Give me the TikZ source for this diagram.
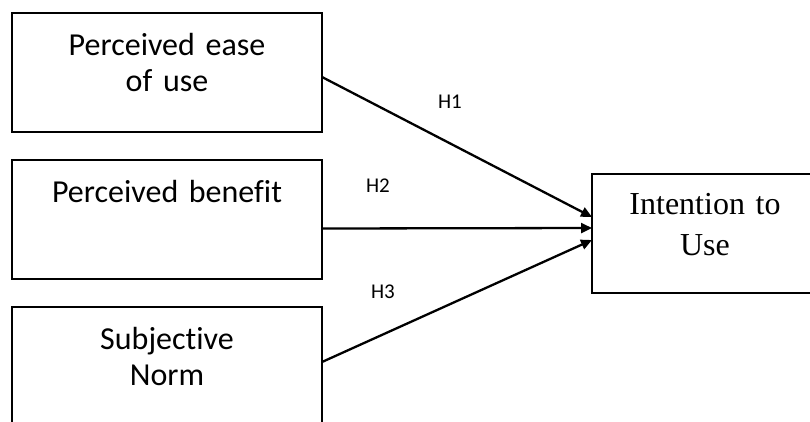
\documentclass[tikz,border=0pt]{standalone}
\usepackage{fontspec}
\usetikzlibrary{positioning,arrows.meta}
\newfontfamily\calibrifont[Ligatures=NoCommon]{Carlito}
\newfontfamily\timesfont{Liberation Serif}

\begin{document}
\begin{tikzpicture}[
			x=1pt,y=-1pt,
			factor/.style={
				draw,
				rectangle,
				line width=1.8pt,
				inner sep=0pt,
				outer sep=0pt,
				text width=310pt,
				text height=42pt,
				text depth=77pt,
				align=center,
				font=\calibrifont\fontsize{32}{36}\selectfont
			},
			outcome/.style={
				draw,
				rectangle,
				line width=1.8pt,
				inner sep=0pt,
				outer sep=0pt,
				text width=226pt,
				text height=40pt,
				text depth=79pt,
				align=center,
				font=\timesfont\fontsize{32}{41}\selectfont
			},
			hyp/.style={
				inner sep=0pt,
				font=\calibrifont\fontsize{21}{24}\selectfont
			},
			arrow/.style={
				-{Triangle[length=11pt,width=10pt]},
				line width=2.3pt
			}
			]
			
			\useasboundingbox (0,0) rectangle (810,421);
			\clip (0,0) rectangle (810,421);
			
			% Nodes
			\node[factor, anchor=north west] (ease) at (12,13) {Perceived ease\\of use};
			\node[factor, below=28pt of ease] (benefit) {Perceived benefit};
			\node[factor, below=28pt of benefit] (norm) {Subjective\\Norm};
			\node[outcome, anchor=north west] (intention) at (592,174) {Intention to\\Use};
			
			% Labels
			\node[hyp] (h1) at (450,102) {H1};
			\node[hyp] (h2) at (378,186) {H2};
			\node[hyp] (h3) at (383,292) {H3};
			
			% Arrows
			\draw[arrow] ([yshift=-4.5pt]ease.east) -- ([yshift=16.5pt]intention.west);
			\draw[arrow] ([yshift=-9pt]benefit.east) -- ([yshift=5.5pt]intention.west);
			\draw[arrow] ([yshift=4.5pt]norm.east) -- ([yshift=-6.5pt]intention.west);
			
		\end{tikzpicture}
\end{document}
